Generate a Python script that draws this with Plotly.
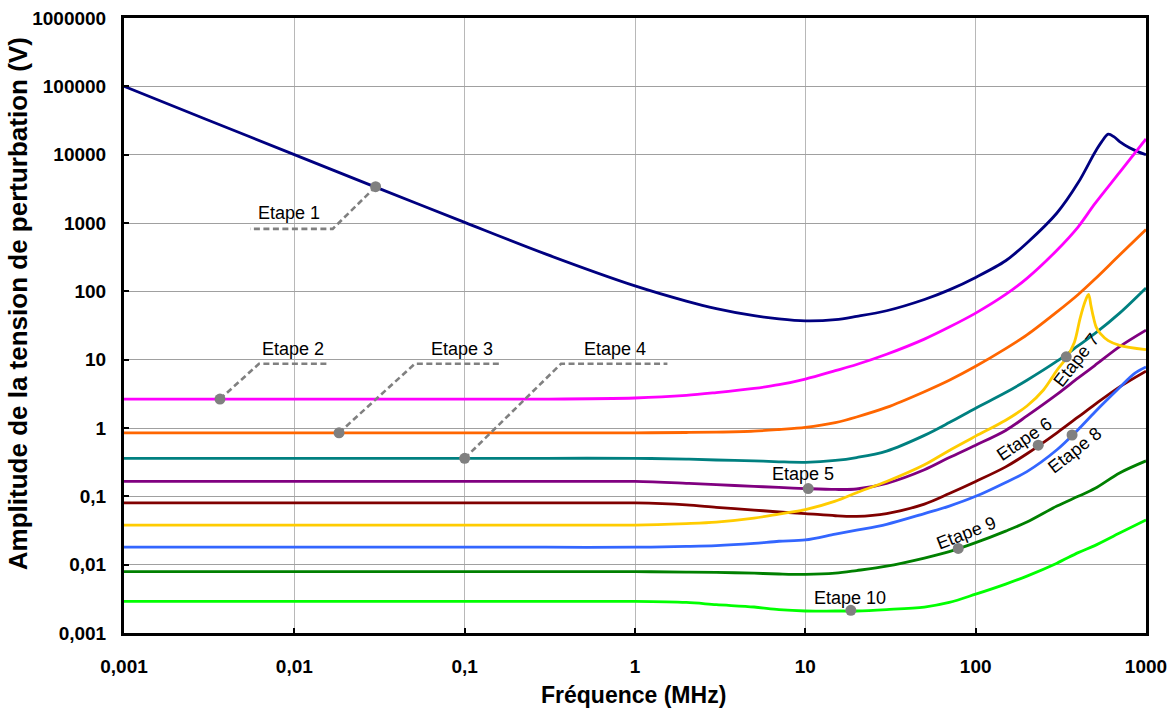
import numpy as np
import plotly.graph_objects as go

# ---------------- data ----------------
f_e1 = [0.001, 0.003, 0.01, 0.03, 0.1, 0.3, 1, 2, 3, 5, 7, 10, 15, 20, 30, 50, 70, 100, 150, 200, 300, 400, 500, 550, 600, 650, 700, 800, 900, 1000]
v_e1 = [100000, 33300, 10000, 3350, 1020, 350, 120, 72, 56, 44, 39.5, 37, 38.5, 43, 52, 76, 105, 160, 280, 510, 1400, 3900, 10700, 15500, 20000, 18200, 15500, 12600, 11000, 10000]

f_grid = [0.001, 0.003, 0.01, 0.03, 0.1, 0.3, 1, 2, 3, 5, 7, 10, 15, 20, 30, 50, 70, 100, 150, 200, 300, 400, 500, 700, 1000]
v_e2 = [2.65, 2.65, 2.65, 2.65, 2.65, 2.65, 2.75, 3.0, 3.3, 3.8, 4.3, 5.2, 6.9, 8.5, 12, 20, 30, 48, 90, 155, 400, 880, 1900, 5500, 17000]
v_e3 = [0.85, 0.85, 0.85, 0.85, 0.85, 0.85, 0.85, 0.86, 0.87, 0.9, 0.95, 1.02, 1.2, 1.45, 2.0, 3.4, 5.0, 8.0, 14.5, 23, 50, 90, 150, 340, 800]
v_e4 = [0.36, 0.36, 0.36, 0.36, 0.36, 0.36, 0.36, 0.35, 0.34, 0.33, 0.32, 0.315, 0.335, 0.37, 0.46, 0.78, 1.2, 1.95, 3.3, 5.0, 9.5, 16, 24, 48, 112]
v_e5 = [0.165, 0.165, 0.165, 0.165, 0.165, 0.165, 0.165, 0.155, 0.148, 0.14, 0.135, 0.13, 0.126, 0.128, 0.155, 0.245, 0.37, 0.56, 0.92, 1.5, 3.1, 5.4, 8.2, 15.5, 27]
v_e6 = [0.08, 0.08, 0.08, 0.08, 0.08, 0.08, 0.08, 0.075, 0.069, 0.063, 0.059, 0.056, 0.052, 0.051, 0.056, 0.077, 0.11, 0.165, 0.27, 0.42, 0.85, 1.45, 2.2, 4.0, 6.8]
v_e9 = [0.0079, 0.0079, 0.0079, 0.0079, 0.0079, 0.0079, 0.0079, 0.0078, 0.0077, 0.0075, 0.0073, 0.0072, 0.0075, 0.0082, 0.0095, 0.0125, 0.0155, 0.021, 0.031, 0.042, 0.072, 0.10, 0.13, 0.22, 0.33]
v_e10 = [0.0029, 0.0029, 0.0029, 0.0029, 0.0029, 0.0029, 0.0029, 0.0028, 0.0026, 0.0024, 0.0022, 0.0021, 0.0021, 0.0021, 0.0022, 0.0024, 0.0028, 0.0037, 0.0052, 0.0068, 0.0105, 0.015, 0.019, 0.029, 0.045]

f_e7 = [0.001, 0.003, 0.01, 0.03, 0.1, 0.3, 1, 2, 3, 5, 7, 10, 15, 20, 30, 50, 70, 100, 150, 200, 250, 300, 340, 380, 410, 440, 460, 475, 490, 510, 540, 600, 700, 1000]
v_e7 = [0.038, 0.038, 0.038, 0.038, 0.038, 0.038, 0.038, 0.04, 0.042, 0.048, 0.055, 0.064, 0.085, 0.113, 0.165, 0.29, 0.47, 0.76, 1.3, 2.1, 3.6, 7.0, 10.5, 18, 40, 72, 90, 62, 43, 30, 24, 19, 16.2, 14]

f_e8 = [0.001, 0.003, 0.01, 0.03, 0.1, 0.3, 1, 2, 3, 5, 7, 10, 15, 20, 30, 50, 70, 100, 150, 200, 300, 400, 500, 700, 850, 1000]
v_e8 = [0.018, 0.018, 0.018, 0.018, 0.018, 0.018, 0.018, 0.0185, 0.019, 0.0205, 0.022, 0.023, 0.028, 0.032, 0.039, 0.056, 0.072, 0.10, 0.16, 0.23, 0.48, 0.95, 1.7, 3.9, 6.2, 7.8]

series_names = ["Etape 1", "Etape 2", "Etape 3", "Etape 4", "Etape 5",
                "Etape 6", "Etape 7", "Etape 8", "Etape 9", "Etape 10"]
series_f = [f_e1, f_grid, f_grid, f_grid, f_grid, f_grid, f_e7, f_e8, f_grid, f_grid]
series_v = [v_e1, v_e2, v_e3, v_e4, v_e5, v_e6, v_e7, v_e8, v_e9, v_e10]
series_colors = ["#000080", "#FF00FF", "#FF6600", "#008080", "#800080",
                 "#800000", "#FFCC00", "#3366FF", "#008000", "#00FF00"]

# label marker points (frequency MHz, voltage V) on each curve
dot_f = [0.030, 0.00366, 0.0183, 0.100, 10.4, 233, 340, 368, 79, 18.5]
dot_v = [3400, 2.65, 0.85, 0.36, 0.13, 0.56, 11.0, 0.79, 0.0173, 0.00215]

# leader lines for labels 1-4: (dot, bend, end) points
lead_f = [[0.030, 0.0168, 0.0055], [0.00366, 0.0062, 0.0155],
          [0.0183, 0.051, 0.16], [0.100, 0.368, 1.55]]
lead_v = [[3400, 820, 820], [2.65, 8.7, 8.7],
          [0.85, 8.7, 8.7], [0.36, 8.7, 8.7]]

# label text positions and angles
lab_f = [0.0093, 0.0098, 0.096, 0.76, 9.7, 193, 390, 385, 88, 18.3]
lab_v = [1380, 14.2, 14.2, 14.2, 0.21, 0.70, 10.0, 0.47, 0.0295, 0.00325]
lab_ang = [0, 0, 0, 0, 0, -34, -52, -38, -21, 0]

x_tickvals = [0.001, 0.01, 0.1, 1, 10, 100, 1000]
x_ticktext = ["0,001", "0,01", "0,1", "1", "10", "100", "1000"]
y_tickvals = [0.001, 0.01, 0.1, 1, 10, 100, 1000, 10000, 100000, 1000000]
y_ticktext = ["0,001", "0,01", "0,1", "1", "10", "100", "1000", "10000", "100000", "1000000"]

x_title = "Fréquence (MHz)"
y_title = "Amplitude de la tension de perturbation (V)"

FONT = "Arial, Liberation Sans, sans-serif"
GREY = "#808080"

fig = go.Figure()

for name, fx, vy, col in zip(series_names, series_f, series_v, series_colors):
    fig.add_trace(go.Scatter(x=fx, y=vy, mode="lines", name=name,
                             line=dict(color=col, width=2.8, shape="spline", smoothing=0.9),
                             hoverinfo="skip"))

for lf, lv in zip(lead_f, lead_v):
    fig.add_trace(go.Scatter(x=lf, y=lv, mode="lines",
                             line=dict(color=GREY, width=2.6, dash="6px,3.5px"),
                             hoverinfo="skip"))

fig.add_trace(go.Scatter(x=dot_f, y=dot_v, mode="markers",
                         marker=dict(color=GREY, size=11), hoverinfo="skip"))

for name, lf, lv, ang in zip(series_names, lab_f, lab_v, lab_ang):
    fig.add_annotation(x=np.log10(lf), y=np.log10(lv), text=name, showarrow=False,
                       textangle=ang, font=dict(family=FONT, size=18, color="black"),
                       xanchor="center", yanchor="middle")

# axis titles
fig.add_annotation(xref="paper", yref="paper", x=0.499, y=-0.101, text=x_title,
                   showarrow=False, xanchor="center", yanchor="middle",
                   font=dict(family=FONT, size=23, color="black", weight="bold"))
fig.add_annotation(xref="paper", yref="paper", x=-0.1035, y=0.535, text=y_title,
                   showarrow=False, xanchor="center", yanchor="middle", textangle=-90,
                   font=dict(family=FONT, size=26, color="black", weight="bold"))

fig.update_layout(
    width=1171, height=708,
    margin=dict(l=124, r=25, t=18, b=75, autoexpand=False),
    paper_bgcolor="white", plot_bgcolor="white",
    showlegend=False,
    font=dict(family=FONT, color="black"),
)

fig.update_xaxes(type="log", range=[-3, 3], automargin=False,
                 tickvals=x_tickvals, ticktext=x_ticktext,
                 tickfont=dict(family=FONT, size=19, color="black", weight="bold"),
                 ticks="inside", ticklen=5, tickwidth=2, tickcolor="black",
                 ticklabelstandoff=14,
                 showgrid=True, gridcolor="#B8B8B8", gridwidth=1,
                 showline=True, linecolor="black", linewidth=3, mirror=True,
                 zeroline=False)

fig.update_yaxes(type="log", range=[-3, 6], automargin=False,
                 tickvals=y_tickvals, ticktext=y_ticktext,
                 tickfont=dict(family=FONT, size=19, color="black", weight="bold"),
                 ticks="inside", ticklen=5, tickwidth=2, tickcolor="black",
                 ticklabelstandoff=11,
                 showgrid=True, gridcolor="#A0A0A0", gridwidth=1,
                 showline=True, linecolor="black", linewidth=3, mirror=True,
                 zeroline=False)

fig.write_html("out.html", config={"displayModeBar": False},
               post_script="document.body.style.margin='0px';document.body.style.overflow='hidden';")
